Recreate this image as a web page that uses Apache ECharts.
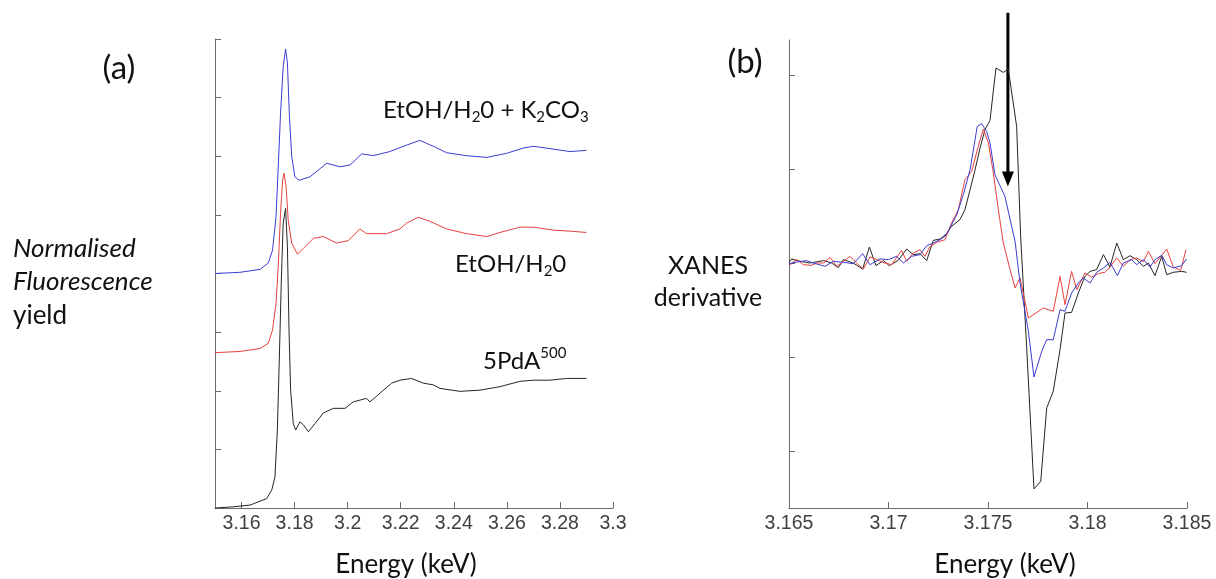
<!DOCTYPE html>
<html>
<head>
<meta charset="utf-8">
<script src="https://cdn.jsdelivr.net/npm/echarts@6/dist/echarts.min.js"></script>
<style>
  html, body { margin: 0; padding: 0; background: #ffffff; }
  #chart { width: 1216px; height: 579px; }
</style>
</head>
<body>
<div id="chart"></div>
<script>
// ---- Panel (a): normalised Pd L3-edge XANES, vertically offset ----
const energyPdA = [3.1500, 3.1569, 3.1632, 3.1695, 3.1714, 3.1726, 3.1735, 3.1742, 3.1750, 3.1757,
  3.1766, 3.1773, 3.1779, 3.1785, 3.1795, 3.1804, 3.1820, 3.1833, 3.1852, 3.1877, 3.1908, 3.1946,
  3.1990, 3.2021, 3.2071, 3.2084, 3.2122, 3.2166, 3.2197, 3.2241, 3.2285, 3.2323, 3.2348, 3.2423,
  3.2499, 3.2574, 3.2649, 3.2700, 3.2762, 3.2825, 3.2900];
const yieldPdA = [0.00, 0.02, 0.05, 0.16, 0.31, 0.53, 1.33, 2.47, 3.89, 4.86,
  5.11, 4.46, 3.04, 2.01, 1.44, 1.33, 1.47, 1.42, 1.30, 1.44, 1.62, 1.70,
  1.70, 1.81, 1.87, 1.81, 1.96, 2.13, 2.18, 2.21, 2.13, 2.10, 2.04, 1.99,
  2.01, 2.07, 2.16, 2.18, 2.18, 2.21, 2.21];

const energyEtOH = [3.1500, 3.1594, 3.1670, 3.1701, 3.1717, 3.1730, 3.1739, 3.1747, 3.1755, 3.1760,
  3.1768, 3.1776, 3.1789, 3.1811, 3.1833, 3.1871, 3.1908, 3.1958, 3.2002, 3.2046, 3.2071, 3.2147,
  3.2197, 3.2222, 3.2266, 3.2310, 3.2373, 3.2448, 3.2524, 3.2574, 3.2649, 3.2700, 3.2775, 3.2844, 3.2900];
const yieldEtOH = [2.65, 2.67, 2.72, 2.81, 3.04, 3.49, 4.18, 5.03, 5.60, 5.71,
  5.48, 4.91, 4.52, 4.33, 4.43, 4.60, 4.63, 4.52, 4.56, 4.76, 4.68, 4.68,
  4.76, 4.86, 4.96, 4.89, 4.76, 4.68, 4.63, 4.70, 4.79, 4.79, 4.74, 4.72, 4.70];

const energyK2CO3 = [3.1500, 3.1594, 3.1670, 3.1701, 3.1717, 3.1730, 3.1739, 3.1747, 3.1757, 3.1766,
  3.1773, 3.1780, 3.1789, 3.1801, 3.1817, 3.1858, 3.1921, 3.1971, 3.2009, 3.2053, 3.2097, 3.2159,
  3.2222, 3.2272, 3.2323, 3.2373, 3.2448, 3.2524, 3.2599, 3.2662, 3.2700, 3.2762, 3.2838, 3.2900];
const yieldK2CO3 = [4.00, 4.02, 4.07, 4.18, 4.40, 4.97, 5.88, 6.73, 7.53, 7.83,
  7.59, 6.73, 6.00, 5.65, 5.59, 5.65, 5.88, 5.82, 5.85, 6.04, 6.01, 6.08,
  6.19, 6.27, 6.17, 6.06, 6.01, 5.98, 6.05, 6.14, 6.17, 6.13, 6.08, 6.10];

const energyTicksA = [3.16, 3.18, 3.2, 3.22, 3.24, 3.26, 3.28, 3.3];

// ---- Panel (b): first derivative of the XANES near the edge ----
const energyDerivPdA = [3.16500, 3.16513, 3.16555, 3.16606, 3.16673, 3.16714, 3.16748, 3.16773, 3.16823,
  3.16870, 3.16904, 3.16937, 3.16974, 3.17004, 3.17049, 3.17091, 3.17125, 3.17158, 3.17192, 3.17225,
  3.17259, 3.17292, 3.17317, 3.17359, 3.17384, 3.17410, 3.17435, 3.17460, 3.17485, 3.17510, 3.17540,
  3.17577, 3.17602, 3.17644, 3.17664, 3.17694, 3.17731, 3.17765, 3.17795, 3.17828, 3.17862, 3.17887,
  3.17920, 3.17954, 3.17987, 3.18013, 3.18046, 3.18080, 3.18113, 3.18147, 3.18180, 3.18214, 3.18247,
  3.18281, 3.18306, 3.18339, 3.18373, 3.18398, 3.18431, 3.18473, 3.18498];
const derivPdA = [0.014, 0.050, 0.025, 0.007, 0.032, 0.007, -0.043, 0.043, 0.007,
  -0.057, 0.177, -0.021, 0.032, -0.021, 0.035, 0.156, 0.096, 0.106, 0.032, 0.248,
  0.262, 0.319, 0.397, 0.468, 0.574, 0.787, 1.000, 1.230, 1.426, 1.525, 2.082,
  2.035, 2.071, 1.461, 0.291, -0.879, -2.397, -2.316, -1.535, -1.358, -0.915, -0.525,
  -0.518, -0.312, -0.135, -0.082, -0.064, 0.096, -0.035, 0.220, 0.043, 0.085, 0.043,
  -0.028, 0.007, -0.128, 0.078, -0.117, -0.092, -0.082, -0.092];

const energyDerivEtOH = [3.16500, 3.16539, 3.16572, 3.16614, 3.16639, 3.16673, 3.16706, 3.16740, 3.16773,
  3.16807, 3.16840, 3.16874, 3.16907, 3.16941, 3.16982, 3.17016, 3.17066, 3.17091, 3.17125, 3.17158,
  3.17183, 3.17209, 3.17242, 3.17284, 3.17317, 3.17351, 3.17384, 3.17418, 3.17451, 3.17477, 3.17502,
  3.17527, 3.17552, 3.17577, 3.17611, 3.17636, 3.17661, 3.17703, 3.17778, 3.17828, 3.17862, 3.17887,
  3.17920, 3.17946, 3.17987, 3.18021, 3.18054, 3.18088, 3.18113, 3.18147, 3.18180, 3.18214, 3.18247,
  3.18281, 3.18306, 3.18339, 3.18398, 3.18431, 3.18468, 3.18495];
const derivEtOH = [-0.021, 0.043, -0.011, -0.018, 0.007, 0.007, 0.067, -0.028, 0.025,
  0.078, 0.007, -0.057, 0.071, 0.043, 0.007, -0.011, 0.142, 0.025, 0.113, 0.149,
  0.078, 0.184, 0.227, 0.255, 0.433, 0.574, 0.894, 0.982, 1.248, 1.433, 1.284,
  0.965, 0.574, 0.220, -0.064, -0.259, -0.152, -0.578, -0.472, -0.507, -0.135, -0.436,
  -0.082, -0.277, -0.099, -0.142, -0.106, -0.092, -0.035, 0.060, -0.028, 0.043, 0.060,
  0.021, 0.131, 0.000, 0.156, -0.035, -0.071, 0.149];

const energyDerivK2CO3 = [3.16500, 3.16539, 3.16589, 3.16622, 3.16681, 3.16723, 3.16773, 3.16823, 3.16870,
  3.16907, 3.16957, 3.16999, 3.17041, 3.17075, 3.17116, 3.17158, 3.17192, 3.17225, 3.17259, 3.17284,
  3.17309, 3.17343, 3.17376, 3.17410, 3.17446, 3.17468, 3.17493, 3.17510, 3.17535, 3.17585, 3.17636,
  3.17661, 3.17703, 3.17731, 3.17770, 3.17795, 3.17828, 3.17862, 3.17887, 3.17920, 3.17954, 3.17979,
  3.18013, 3.18046, 3.18080, 3.18113, 3.18150, 3.18180, 3.18222, 3.18247, 3.18281, 3.18314, 3.18339,
  3.18373, 3.18398, 3.18431, 3.18473, 3.18498];
const derivK2CO3 = [0.000, 0.018, 0.032, 0.007, -0.028, 0.025, 0.014, 0.000, 0.106,
  -0.011, 0.050, 0.043, 0.078, 0.007, 0.078, 0.096, 0.191, 0.220, 0.255, 0.291,
  0.379, 0.521, 0.734, 1.000, 1.461, 1.489, 1.408, 1.284, 0.947, 0.716, 0.238,
  -0.206, -0.720, -1.206, -0.933, -0.809, -0.809, -0.489, -0.507, -0.312, -0.206, -0.152,
  -0.206, -0.092, -0.046, 0.014, -0.128, 0.007, 0.043, -0.011, 0.043, -0.035, 0.043,
  0.089, -0.011, -0.046, -0.021, 0.050];

const energyTicksB = [3.165, 3.17, 3.175, 3.18, 3.185];
const derivTicksB = [-2, -1, 0, 1, 2];

// Arrow marking the shoulder on the falling edge of the derivative
const arrowEnergy = 3.1760;
const arrowTop = 2.67;
const arrowTip = 0.82;

const COLORS = { pda: '#262626', etoh: '#e8403f', k2co3: '#3c3cd2' };
const AXIS = '#6b6b6b';
const TEXT_FONT = 'Lato, "Open Sans", sans-serif';
const TICK_FONT = 'Liberation Sans';

const zip = (xs, ys) => xs.map((x, i) => [x, ys[i]]);
const trimNum = v => String(parseFloat(Number(v).toFixed(3)));

function lineSeries(name, xi, xs, ys, color) {
  return {
    name, type: 'line', xAxisIndex: xi, yAxisIndex: xi,
    data: zip(xs, ys), showSymbol: false, symbol: 'none',
    lineStyle: { color, width: 1 }, itemStyle: { color },
    animation: false, silent: true, clip: false
  };
}

function xAxisCfg(grid, min, max, ticks) {
  return {
    type: 'value', gridIndex: grid, min, max,
    axisLine: { show: true, onZero: false, lineStyle: { color: AXIS, width: 1 } },
    axisTick: { show: true, inside: true, length: 6, customValues: ticks, lineStyle: { color: AXIS } },
    axisLabel: {
      show: true, customValues: ticks, formatter: trimNum, margin: 6,
      color: '#3f3f3f', fontFamily: TICK_FONT, fontSize: 19.5
    },
    splitLine: { show: false }
  };
}

const chart = echarts.init(document.getElementById('chart'), null, { renderer: 'canvas' });

chart.setOption({
  backgroundColor: '#ffffff',
  animation: false,
  textStyle: { fontFamily: TICK_FONT },
  grid: [
    { left: 215, top: 39, width: 398, height: 469 },
    { left: 789, top: 40, width: 398, height: 468 }
  ],
  xAxis: [
    xAxisCfg(0, 3.15, 3.3, energyTicksA),
    xAxisCfg(1, 3.165, 3.185, energyTicksB)
  ],
  yAxis: [
    {
      type: 'value', gridIndex: 0, min: 0, max: 8, interval: 1,
      axisLine: { show: true, onZero: false, lineStyle: { color: AXIS, width: 1 } },
      axisTick: { show: true, inside: true, length: 6, lineStyle: { color: AXIS } },
      axisLabel: { show: false }, splitLine: { show: false }
    },
    {
      type: 'value', gridIndex: 1, min: -2.6, max: 2.38,
      axisLine: { show: true, onZero: false, lineStyle: { color: AXIS, width: 1 } },
      axisTick: { show: true, inside: true, length: 6, customValues: derivTicksB, lineStyle: { color: AXIS } },
      axisLabel: { show: false }, splitLine: { show: false }
    }
  ],
  series: [
    lineSeries('5PdA500', 0, energyPdA, yieldPdA, COLORS.pda),
    lineSeries('EtOH/H2O', 0, energyEtOH, yieldEtOH, COLORS.etoh),
    lineSeries('EtOH/H2O + K2CO3', 0, energyK2CO3, yieldK2CO3, COLORS.k2co3),
    lineSeries('5PdA500', 1, energyDerivPdA, derivPdA, COLORS.pda),
    lineSeries('EtOH/H2O', 1, energyDerivEtOH, derivEtOH, COLORS.etoh),
    lineSeries('EtOH/H2O + K2CO3', 1, energyDerivK2CO3, derivK2CO3, COLORS.k2co3)
  ]
});

function text(x, y, str, opts) {
  const o = Object.assign({ size: 24, align: 'left', italic: false, color: '#111111' }, opts || {});
  return {
    type: 'text', x, y, silent: true,
    style: {
      text: str, fill: o.color,
      font: (o.italic ? 'italic ' : '') + o.size + 'px ' + TEXT_FONT,
      align: o.align, textAlign: o.align,
      verticalAlign: 'middle', textVerticalAlign: 'middle',
      rich: o.rich
    }
  };
}

const richScript = {
  m: { fontSize: 24, fontFamily: TEXT_FONT, lineHeight: 30, fill: '#111111', color: '#111111' },
  sub: { fontSize: 15, fontFamily: TEXT_FONT, lineHeight: 14, verticalAlign: 'bottom', fill: '#111111', color: '#111111' },
  sup: { fontSize: 15, fontFamily: TEXT_FONT, lineHeight: 14, verticalAlign: 'top', fill: '#111111', color: '#111111' }
};

// Arrow geometry follows the panel (b) scales
const pTop = chart.convertToPixel({ xAxisIndex: 1, yAxisIndex: 1 }, [arrowEnergy, arrowTop]);
const pTip = chart.convertToPixel({ xAxisIndex: 1, yAxisIndex: 1 }, [arrowEnergy, arrowTip]);
const headLen = 15, headHalf = 6;

chart.setOption({
  graphic: [
    text(119, 68, '(a)', { size: 33, align: 'center' }),
    text(745, 62, '(b)', { size: 33, align: 'center' }),
    text(13, 249, 'Normalised', { italic: true, size: 26 }),
    text(13, 282, 'Fluorescence', { italic: true, size: 26 }),
    text(13, 316, 'yield', { size: 26 }),
    text(708, 266, 'XANES', { align: 'center', size: 25 }),
    text(708, 298, 'derivative', { align: 'center', size: 25 }),
    text(406, 565, 'Energy (keV)', { align: 'center', size: 26 }),
    text(1005, 565, 'Energy (keV)', { align: 'center', size: 26 }),
    text(383, 110, '{m|EtOH/H}{sub|2}{m|0 + K}{sub|2}{m|CO}{sub|3}', { rich: richScript }),
    text(455, 264, '{m|EtOH/H}{sub|2}{m|0}', { rich: richScript }),
    text(483, 361, '{m|5PdA}{sup|500}', { rich: richScript }),
    {
      type: 'line', silent: true,
      shape: { x1: pTop[0], y1: pTop[1], x2: pTip[0], y2: pTip[1] - headLen + 2 },
      style: { stroke: '#000000', lineWidth: 3 }
    },
    {
      type: 'polygon', silent: true,
      shape: { points: [[pTip[0] - headHalf, pTip[1] - headLen], [pTip[0] + headHalf, pTip[1] - headLen], [pTip[0], pTip[1]]] },
      style: { fill: '#000000' }
    }
  ]
});
</script>
</body>
</html>
